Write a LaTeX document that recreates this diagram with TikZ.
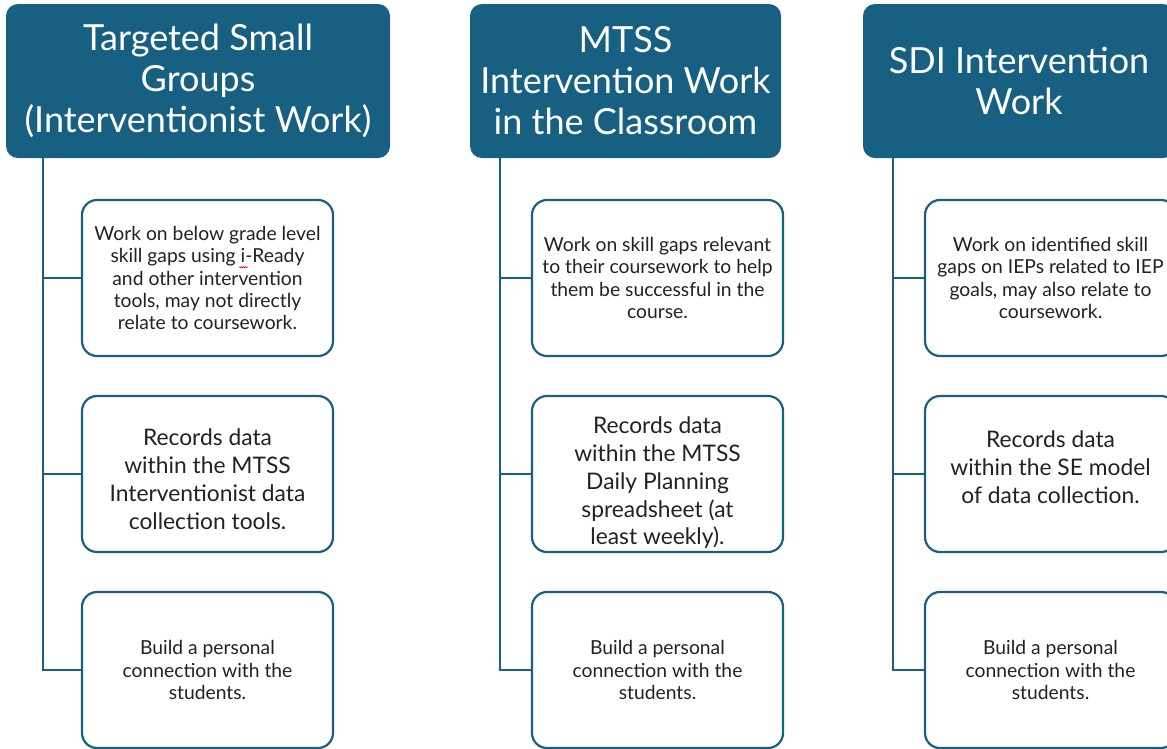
\documentclass[tikz,border=0pt]{standalone}
\usepackage{fontspec}
\setmainfont{Lato}
\definecolor{teal}{RGB}{24,96,130}
\definecolor{ink}{RGB}{34,34,34}
% red wavy spelling mark under a letter, drawn as an overlay
\newcommand\spellmark[1]{#1\tikz[overlay,baseline=0pt,x=1pt,y=1pt]
  \draw[red, line width=0.7pt, sharp corners]
    (-6,-4) -- (-5,-5) -- (-4,-4) -- (-3,-5) -- (-2,-4) -- (-1,-5) -- (0,-4) -- (1,-5) -- (2,-4);}
% centred lines, shifted up or down inside their box without changing its size
\newcommand\liftlines[2]{\raisebox{#1}[0pt][0pt]{\begin{tabular}{@{}c@{}}#2\end{tabular}}}
\tikzset{
  header/.style={draw=none, fill=teal, rounded corners=12pt, text=white,
    align=center, inner sep=0pt, minimum height=154pt,
    font=\fontsize{36}{41}\selectfont},
  item/.style={draw=teal, line width=2.2pt, fill=white, rounded corners=15pt,
    text=ink, align=center, inner sep=0pt, minimum width=251pt, minimum height=156pt,
    font=\fontsize{19.3}{22.3}\selectfont},
  bigitem/.style={item, font=\fontsize{22.8}{27.8}\selectfont},
  link/.style={draw=teal, line width=2.2pt},
}
\begin{document}
\begin{tikzpicture}[x=1pt,y=-1pt]
\clip (0,0) rectangle (1167,748);
\fill[white] (0,0) rectangle (1167,748);

% column headers
\node[header, minimum width=384pt] (h1) at (198,81)
  {Targeted Small\\Groups\\(Interventionist Work)};
\node[header, minimum width=311pt] (h2) at (625.5,81)
  {MTSS\\Intervention Work\\in the Classroom};
\node[header, minimum width=312pt] (h3) at (1019,81)
  {SDI Intervention\\Work};

% first column
\node[item] (a1) at (207.5,278)
  {Work on below grade level\\skill gaps using \spellmark{i}-Ready\\and other intervention\\tools, may not directly\\relate to coursework.};
\node[bigitem] (a2) at (207.5,474)
  {\liftlines{-13pt}{Records data\\within the MTSS\\Interventionist data\\collection tools.}};
\node[item] (a3) at (207.5,670)
  {Build a personal\\connection with the\\students.};

% second column
\node[item] (b1) at (657.5,278)
  {Work on skill gaps relevant\\to their coursework to help\\them be successful in the\\course.};
\node[bigitem] (b2) at (657.5,474)
  {\liftlines{-15pt}{Records data\\within the MTSS\\Daily Planning\\spreadsheet (at\\least weekly).}};
\node[item] (b3) at (657.5,670)
  {Build a personal\\connection with the\\students.};

% third column
\node[item] (c1) at (1050.5,278)
  {Work on identified skill\\gaps on IEPs related to IEP\\goals, may also relate to\\coursework.};
\node[bigitem] (c2) at (1050.5,474)
  {\liftlines{-1pt}{Records data\\within the SE model\\of data collection.}};
\node[item] (c3) at (1050.5,670)
  {Build a personal\\connection with the\\students.};

% connectors: a spine under each header, with a tie to every box
\draw[link] (h1.south west) ++(37,0) coordinate (s1) |- (a3.west);
\draw[link] (s1 |- a1.west) -- (a1.west);
\draw[link] (s1 |- a2.west) -- (a2.west);

\draw[link] (h2.south west) ++(30,0) coordinate (s2) |- (b3.west);
\draw[link] (s2 |- b1.west) -- (b1.west);
\draw[link] (s2 |- b2.west) -- (b2.west);

\draw[link] (h3.south west) ++(30,0) coordinate (s3) |- (c3.west);
\draw[link] (s3 |- c1.west) -- (c1.west);
\draw[link] (s3 |- c2.west) -- (c2.west);
\end{tikzpicture}
\end{document}
